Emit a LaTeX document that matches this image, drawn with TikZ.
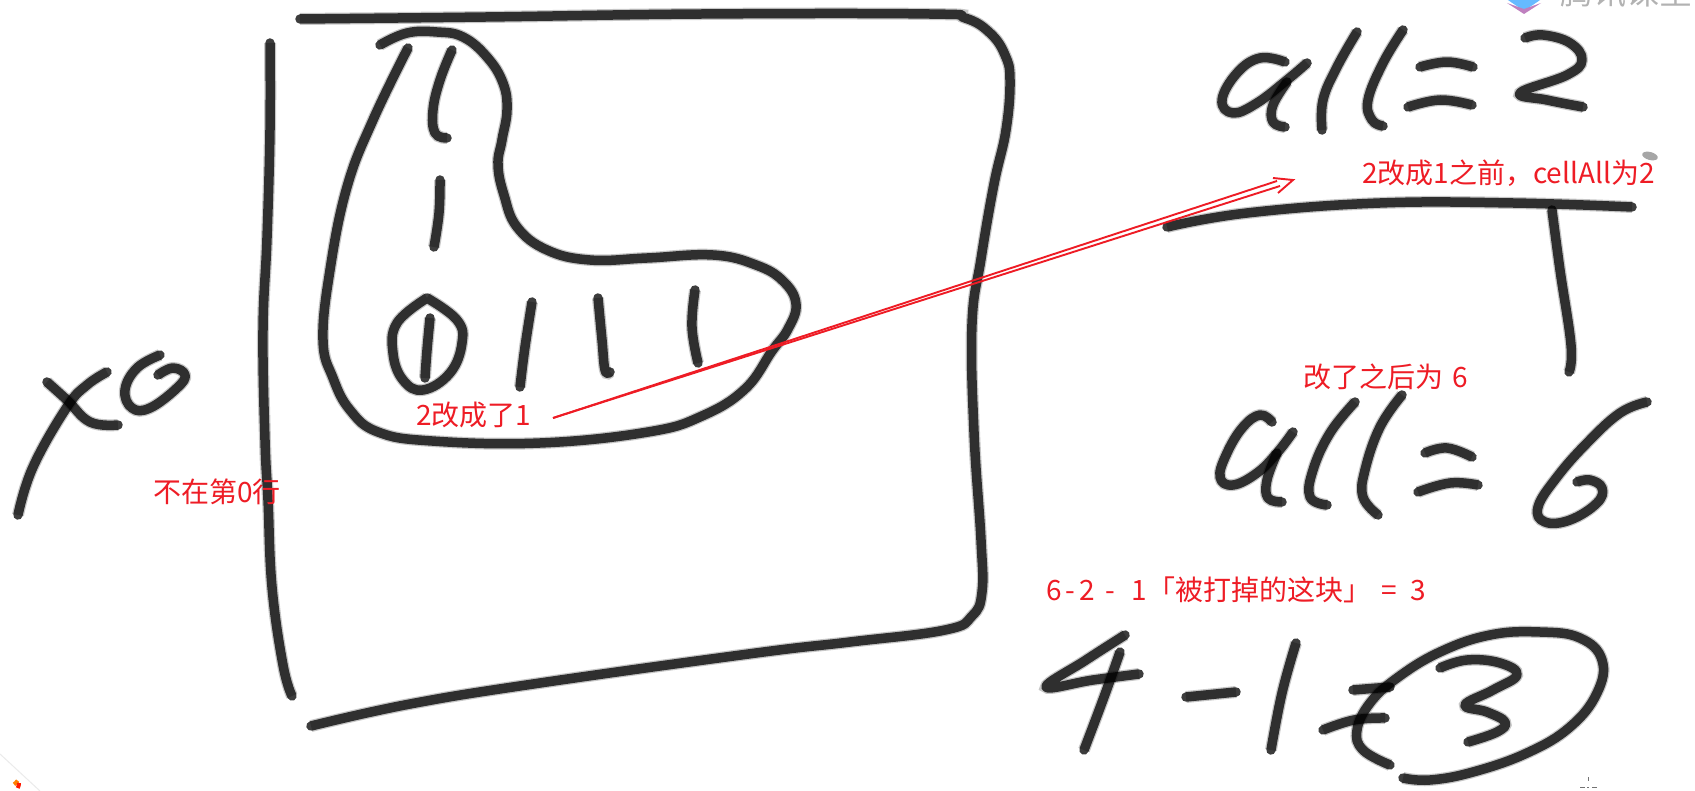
\documentclass[tikz,border=0pt]{standalone}
\usepackage{fontspec}
\setmainfont{Noto Sans CJK SC}
\definecolor{notered}{HTML}{EE1C25}
\tikzset{
  ink/.style={draw=black,opacity=.76,line width=9.5pt,line cap=round,line join=round,
    preaction={draw=black,opacity=.22,line width=12pt}},
  note/.style={text=notered,font=\fontsize{28}{32}\selectfont,anchor=base west,inner sep=0pt,outer sep=0pt},
  redline/.style={draw=notered,line width=1.9pt,line join=miter}
}
\newcommand{\inkline}[2][]{\draw[ink,#1] plot[smooth,tension=0.7] coordinates {#2};}
\begin{document}
\begin{tikzpicture}[x=1pt,y=-1pt]
\useasboundingbox (0,0) rectangle (1695,791);
\fill[white] (0,0) rectangle (1695,791);
% watermark (cropped at the top edge) and corner remnants
\begin{scope}
\clip (0,0) rectangle (1695,791);
\fill[blue!45!cyan!60] (1505,-2) -- (1543,-2) -- (1524,11) -- cycle;
\fill[violet!50] (1507,3) -- (1524,9) -- (1541,3) -- (1524,14) -- cycle;
\node[text=black!30,font=\fontsize{33}{33}\selectfont,anchor=base west,inner sep=0pt] (watermark) at (1560,5) {腾讯课堂};
\draw[black!8,line width=1pt] (0,754) -- (40,791);
\draw[yellow!70!green!90!black,line width=4pt] (-1,793) arc[start angle=180,end angle=60,radius=10];
\draw[orange,line width=4pt] (14,784.3) arc[start angle=60,end angle=30,radius=10];
\draw[red!80!orange,line width=4pt] (17.7,788) arc[start angle=30,end angle=0,radius=10];
\end{scope}
\draw[black!55,line width=1pt] (1588,777) -- (1588,781) (1580,787) -- (1585,787) (1587,787) -- (1589,787) (1592,787) -- (1597,787);
\fill[black!35,rotate around={-15:(1650,156)}] (1650,156) ellipse[x radius=8,y radius=4];
% big box
\inkline{(300,19)(486,17)(702,14)(929,14)(965,18)(990,33)(1005,55)(1010,80)(1006,130)(994,184)(981,259)(972,324)(974,432)(981,540)(982,592)(972,616)(945,630)(850,642)(756,653)(540,683)(410,704)(311,726)}
\inkline{(270,43)(270,130)(267,238)(263,330)(265,440)(268,500)(272,587)(283,665)(292,696)}
% blob
\inkline{(380,45)(407,33)(437,32)(463,37)(487,57)(503,83)(507,110)(502,140)(498,165)(504,195)(517,227)(547,250)(590,260)(647,258)(713,255)(756,265)(783,281)(796,304)(788,329)(772,351)(745,389)(702,416)(648,432)(540,443)(432,441)(378,432)(350,410)(333,378)(323,340)(330,270)(347,187)(373,120)(408,48)}
% dashes
\inkline{(452,50)(440,80)(433,110)(435,133)(447,138)}
\inkline{(440,180)(439,213)(434,247)}
% ring and ones
\inkline{(427,298)(457,320)(462,343)(450,373)(423,390)(403,380)(393,353)(397,323)(427,298)}
\inkline{(430,318)(427,350)(425,378)}
\inkline{(532,302)(525,347)(520,387)}
\inkline{(598,298)(602,340)(605,370)(610,372)}
\inkline{(695,290)(692,327)(698,363)}
% x0
\inkline{(18,515)(33,467)(67,407)(87,385)(107,372)}
\inkline{(47,382)(67,400)(90,422)(118,425)}
\inkline{(160,355)(137,368)(125,390)(132,408)(150,408)(177,388)(185,375)(173,368)(158,375)}
% all=2
\inkline{(1285,62)(1260,58)(1237,73)(1222,100)(1233,113)(1257,103)(1287,80)(1307,63)}
\inkline{(1287,82)(1273,105)(1273,122)(1285,127)}
\inkline{(1357,32)(1337,67)(1323,100)(1322,130)}
\inkline{(1403,30)(1383,63)(1368,100)(1372,120)(1383,126)}
\inkline{(1420,67)(1447,62)(1473,67)}
\inkline{(1408,107)(1440,100)(1472,105)}
\inkline{(1525,38)(1543,35)(1570,43)(1582,60)(1567,75)(1520,93)(1547,100)(1583,107)}
% bar and stem
\inkline{(1167,227)(1247,213)(1380,203)(1513,203)(1632,207)}
\inkline{(1552,210)(1560,270)(1571,345)(1569,372)}
% all=6
\inkline{(1272,422)(1260,415)(1243,427)(1227,453)(1220,477)(1233,485)(1257,473)(1277,453)(1293,432)}
\inkline{(1277,453)(1267,480)(1268,498)(1282,502)}
\inkline{(1355,402)(1330,433)(1313,470)(1310,497)(1327,505)}
\inkline{(1402,395)(1380,427)(1365,470)(1363,497)(1378,515)}
\inkline{(1425,453)(1447,448)(1472,457)}
\inkline{(1418,492)(1450,483)(1478,485)}
\inkline{(1647,402)(1620,413)(1587,443)(1557,477)(1538,507)(1545,522)(1570,520)(1597,503)(1602,488)(1590,480)(1577,482)}
% 4-1=3
\inkline{(1125,635)(1086,660)(1046,687)(1093,680)(1139,674)}
\inkline{(1120,652)(1104,697)(1084,750)}
\inkline{(1186,697)(1236,692)}
\inkline{(1296,643)(1282,693)(1271,750)}
\inkline{(1353,690)(1390,687)}
\inkline{(1323,730)(1354,720)(1385,718)}
\inkline{(1390,765)(1363,750)(1357,730)(1370,703)(1397,678)(1440,652)(1490,635)(1540,632)(1580,638)(1602,660)(1597,693)(1570,727)(1527,753)(1473,772)(1430,780)(1403,778)}
\inkline{(1440,668)(1467,660)(1500,663)(1517,675)(1493,690)(1465,705)(1487,712)(1505,722)(1497,732)(1468,742)}
% red notes
\node[note] (n1) at (416,426) {2改成了1};
\node[note] (n2) at (153,502) {不在第0行};
\node[note] (n3) at (1362,184) {2改成1之前，cellAll为2};
\node[note] (n4) at (1303,388) {改了之后为\hspace{3pt} 6};
\node[note] (n5) at (1046,600) {6\hspace{4pt}-\hspace{4pt}2\hspace{11pt}-\hspace{16pt}1「被打掉的这块」\hspace{10pt}=\hspace{14pt}3};
% hollow red arrow
\coordinate (arrowstart) at (553,418);
\coordinate (shaftup) at (1277,181);
\coordinate (shaftlow) at (1280,186);
\coordinate (barbup) at (1273,178);
\coordinate (arrowtip) at (1293,180);
\coordinate (barblow) at (1278,193);
\draw[redline] (arrowstart) -- (shaftup);
\draw[redline] (arrowstart) -- (shaftlow);
\draw[redline] (barbup) -- (arrowtip) -- (barblow);
\end{tikzpicture}
\end{document}
